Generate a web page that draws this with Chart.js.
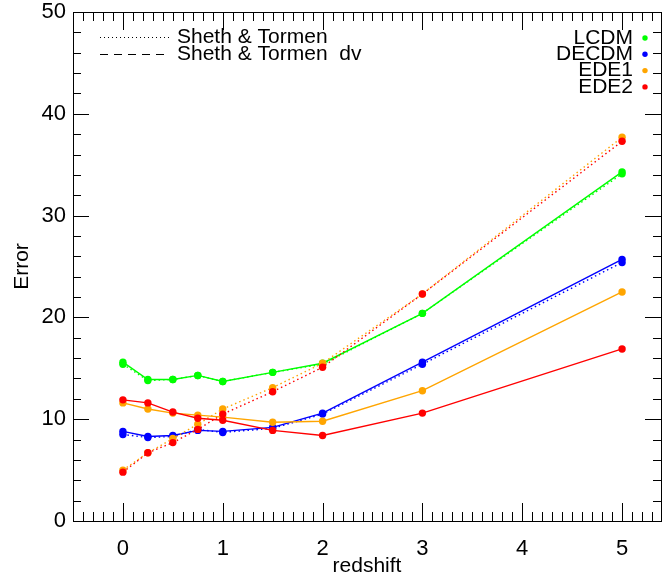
<!DOCTYPE html>
<html>
<head>
<meta charset="utf-8">
<script src="https://cdn.jsdelivr.net/npm/chart.js@4.4.0/dist/chart.umd.min.js"></script>
<style>
  body { margin: 0; background: #fff; }
  canvas { display: block; }
</style>
</head>
<body>
<canvas id="chart" width="665" height="578"></canvas>
<script>
// values
const redshift = [0, 0.25, 0.5, 0.75, 1, 1.5, 2, 3, 5];

const lcdmST    = [15.4, 13.8, 13.9, 14.3, 13.7, 14.6, 15.4, 20.4, 34.1];
const lcdmDV    = [15.6, 13.9, 13.9, 14.3, 13.7, 14.6, 15.5, 20.4, 34.3];
const decdmST   = [8.5, 8.2, 8.3, 9.0, 8.7, 9.1, 10.5, 15.4, 25.4];
const decdmDV   = [8.8, 8.3, 8.4, 8.9, 8.8, 9.2, 10.6, 15.6, 25.7];
const ede1ST    = [5.0, 6.7, 8.1, 9.5, 11.0, 13.1, 15.5, 22.3, 37.7];
const ede1DV    = [11.6, 11.0, 10.6, 10.4, 10.2, 9.7, 9.8, 12.8, 22.5];
const ede2ST    = [4.8, 6.7, 7.7, 9.0, 10.5, 12.7, 15.1, 22.3, 37.3];
const ede2DV    = [11.9, 11.6, 10.7, 10.1, 9.9, 8.9, 8.4, 10.6, 16.9];

const models = ['LCDM', 'DECDM', 'EDE1', 'EDE2'];
const modelColors = ['#00ff00', '#0000ff', '#ffa500', '#ff0000'];
const lineLabels = ['Sheth & Tormen', 'Sheth & Tormen  dv'];

const xTicks = [0, 1, 2, 3, 4, 5];
const yTicks = [0, 10, 20, 30, 40, 50];

const FONT = "'Liberation Sans', Arial, sans-serif";

function pts(ys) {
    return redshift.map((x, i) => ({ x: x, y: ys[i] }));
}

function makeSet(label, ys, color, dotted) {
    return {
        label: label,
        data: pts(ys),
        borderColor: color,
        backgroundColor: color,
        borderWidth: 1.4,
        borderDash: dotted ? [1.5, 3] : [],
        pointRadius: 3.7,
        pointBorderWidth: 0,
        pointBackgroundColor: color,
        tension: 0,
    };
}

// first dataset is drawn on top
const datasets = [
    makeSet('EDE2 dv', ede2DV, modelColors[3], false),
    makeSet('EDE2 ST', ede2ST, modelColors[3], true),
    makeSet('EDE1 dv', ede1DV, modelColors[2], false),
    makeSet('EDE1 ST', ede1ST, modelColors[2], true),
    makeSet('DECDM dv', decdmDV, modelColors[1], false),
    makeSet('DECDM ST', decdmST, modelColors[1], true),
    makeSet('LCDM dv', lcdmDV, modelColors[0], false),
    makeSet('LCDM ST', lcdmST, modelColors[0], true),
];

// box, inward ticks and the two legends
const framePlugin = {
    id: 'frame',
    afterDraw(chart) {
        const ctx = chart.ctx;
        const a = chart.chartArea;
        const xs = chart.scales.x, ys = chart.scales.y;
        ctx.save();
        ctx.strokeStyle = '#000';
        ctx.lineWidth = 1;
        ctx.strokeRect(Math.round(a.left) + 0.5, Math.round(a.top) + 0.5,
            Math.round(a.right - a.left), Math.round(a.bottom - a.top));

        ctx.beginPath();
        for (let i = -4; i <= 54; i++) {
            const v = i / 10;
            if (v < xs.min || v > xs.max) continue;
            const px = Math.round(xs.getPixelForValue(v)) + 0.5;
            const len = (i % 10 === 0) ? 18 : 9;
            ctx.moveTo(px, a.bottom); ctx.lineTo(px, a.bottom - len);
            ctx.moveTo(px, a.top); ctx.lineTo(px, a.top + len);
        }
        for (let v = 0; v <= 50; v += 2) {
            const py = Math.round(ys.getPixelForValue(v)) + 0.5;
            const len = (v % 10 === 0) ? 16 : 8;
            ctx.moveTo(a.left, py); ctx.lineTo(a.left + len, py);
            ctx.moveTo(a.right, py); ctx.lineTo(a.right - len, py);
        }
        ctx.stroke();

        // line style legend
        ctx.font = '21px ' + FONT;
        ctx.fillStyle = '#000';
        ctx.textBaseline = 'middle';
        ctx.textAlign = 'left';
        const styles = [[1, 3], [8, 6]];
        lineLabels.forEach((t, i) => {
            const y = 37 + i * 17;
            ctx.beginPath();
            ctx.setLineDash(styles[i]);
            ctx.moveTo(100, y + 0.5); ctx.lineTo(170, y + 0.5);
            ctx.stroke();
            ctx.setLineDash([]);
            ctx.fillText(t, 177, y);
        });

        // model legend
        ctx.textAlign = 'right';
        models.forEach((m, i) => {
            const y = 38 + i * 16.3;
            ctx.fillStyle = '#000';
            ctx.fillText(m, 633, y);
            ctx.fillStyle = modelColors[i];
            ctx.beginPath();
            ctx.arc(645, y, 2.7, 0, Math.PI * 2);
            ctx.fill();
        });
        ctx.restore();
    }
};

new Chart(document.getElementById('chart'), {
    type: 'line',
    data: { datasets: datasets },
    options: {
        responsive: false,
        devicePixelRatio: 1,
        animation: false,
        layout: { padding: { top: 12, right: 0, left: 0, bottom: 0 } },
        plugins: { legend: { display: false }, tooltip: { enabled: false } },
        scales: {
            x: {
                type: 'linear',
                min: -0.5,
                max: 5.39,
                grid: { display: false, drawTicks: false },
                border: { display: false },
                afterBuildTicks: (s) => { s.ticks = xTicks.map(v => ({ value: v })); },
                afterFit: (s) => { s.height = 57; s.paddingLeft = 0; s.paddingRight = 0; },
                ticks: {
                    color: '#000',
                    font: { family: FONT, size: 22 },
                    padding: 15,
                    maxRotation: 0,
                },
                title: {
                    display: true,
                    text: 'redshift',
                    color: '#000',
                    font: { family: FONT, size: 21, lineHeight: 1.1 },
                    padding: { top: 0, bottom: 0 },
                },
            },
            y: {
                min: 0,
                max: 50,
                grid: { display: false, drawTicks: false },
                border: { display: false },
                afterBuildTicks: (s) => { s.ticks = yTicks.map(v => ({ value: v })); },
                afterFit: (s) => { s.width = 73; s.paddingTop = 0; s.paddingBottom = 0; },
                ticks: {
                    color: '#000',
                    font: { family: FONT, size: 22 },
                    padding: 7,
                },
                title: {
                    display: true,
                    text: 'Error',
                    color: '#000',
                    font: { family: FONT, size: 21 },
                    padding: { top: 10, bottom: 0 },
                },
            },
        },
    },
    plugins: [framePlugin],
});
</script>
</body>
</html>
